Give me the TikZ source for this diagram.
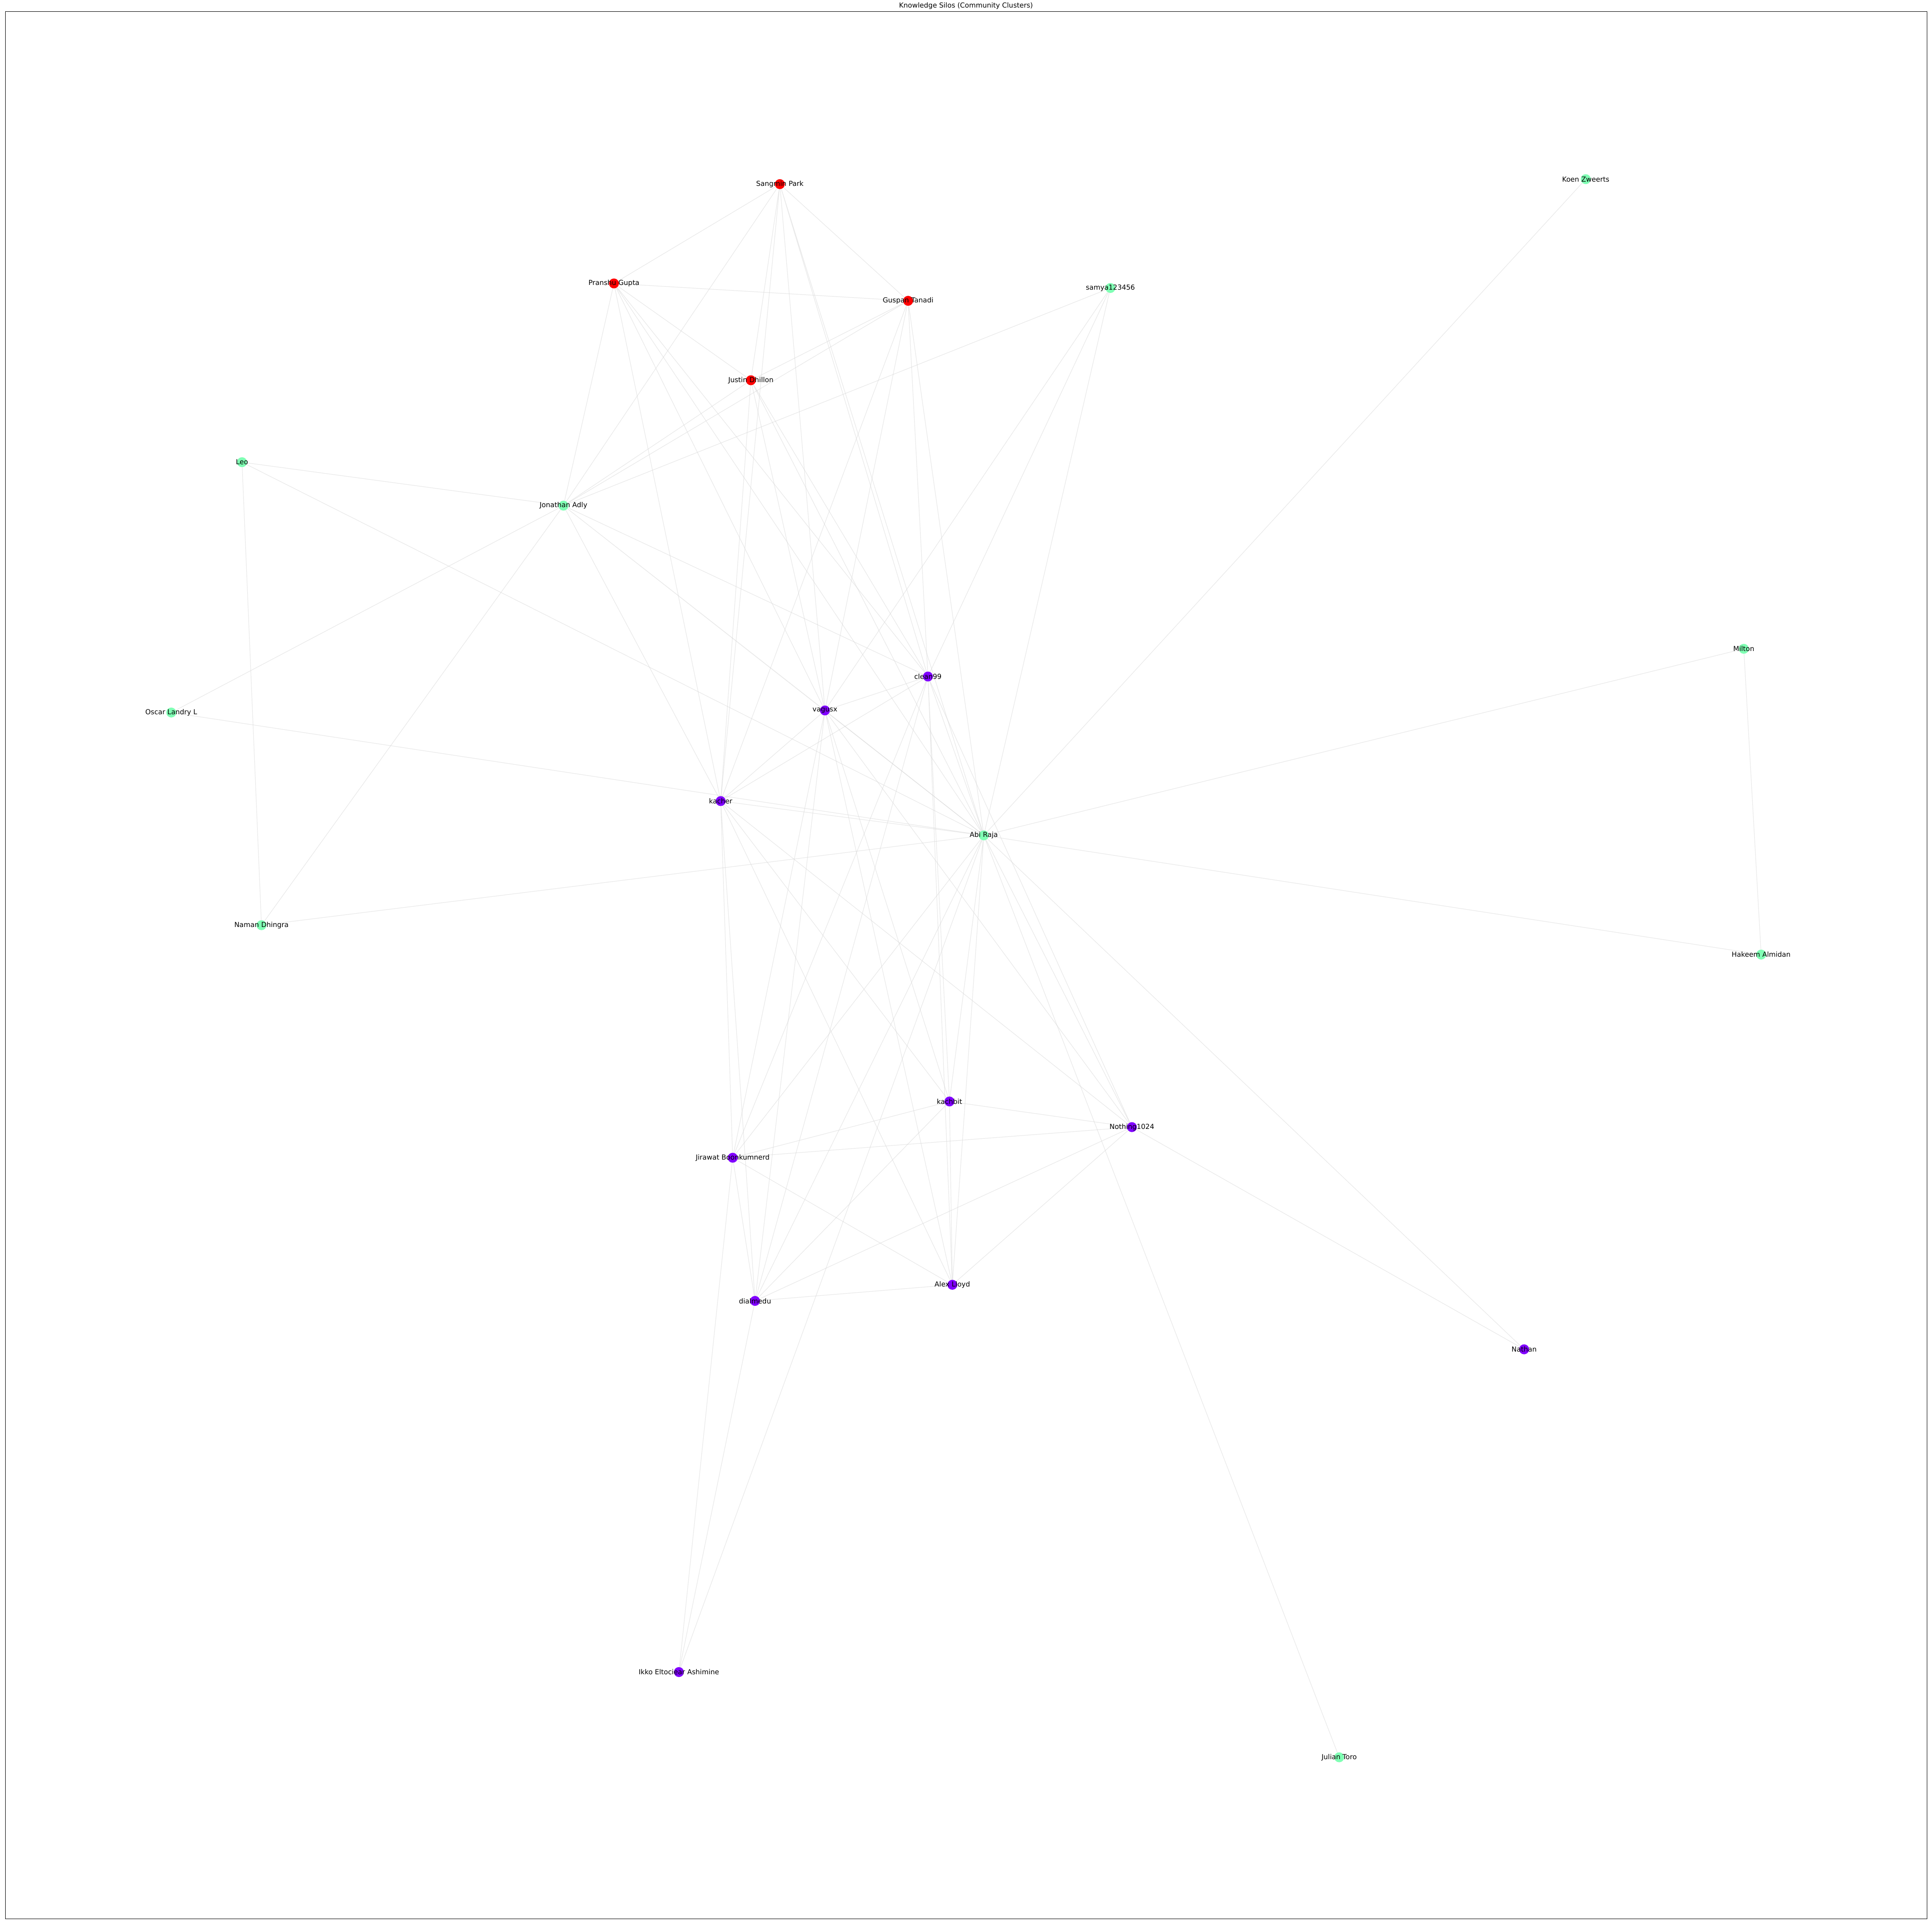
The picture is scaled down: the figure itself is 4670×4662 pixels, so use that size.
\documentclass[tikz,border=0pt]{standalone}
\usepackage{fontspec}
\setmainfont{DejaVu Sans}
\usetikzlibrary{backgrounds}

\definecolor{clpurple}{RGB}{128,0,255}
\definecolor{clgreen}{RGB}{128,255,180}
\definecolor{clred}{RGB}{255,0,0}

\begin{document}
\begin{tikzpicture}[
    x=0.72pt, y=-0.72pt,
    person/.style={circle, inner sep=0pt, minimum size=17.3pt},
    purp/.style={person, fill=clpurple},
    mint/.style={person, fill=clgreen},
    hot/.style={person, fill=clred},
    lbl/.style={font=\fontsize{12}{14}\selectfont, text=black},
    link/.style={draw=black!17, line width=1pt, draw opacity=0.5}
]
\useasboundingbox (0,0) rectangle (4670,4662);

% Red cluster
\node[hot, label={[lbl]center:Sangmin Park}] (sangmin) at (1885,445) {};
\node[hot, label={[lbl]center:Pranshu Gupta}] (pranshu) at (1484,685) {};
\node[hot, label={[lbl]center:Guspan Tanadi}] (guspan) at (2195,727) {};
\node[hot, label={[lbl]center:Justin Dhillon}] (justin) at (1815,919) {};

% Green cluster
\node[mint, label={[lbl]center:samya123456}] (samya) at (2684,696) {};
\node[mint, label={[lbl]center:Koen Zweerts}] (koen) at (3833,433) {};
\node[mint, label={[lbl]center:Leo}] (leo) at (585,1117) {};
\node[mint, label={[lbl]center:Jonathan Adly}] (jonathan) at (1362,1222) {};
\node[mint, label={[lbl]center:Milton}] (milton) at (4215,1568) {};
\node[mint, label={[lbl]center:Oscar Landry L}] (oscar) at (414,1722) {};
\node[mint, label={[lbl]center:Abi Raja}] (abi) at (2378,2019) {};
\node[mint, label={[lbl]center:Naman Dhingra}] (naman) at (632,2236) {};
\node[mint, label={[lbl]center:Hakeem Almidan}] (hakeem) at (4257,2307) {};
\node[mint, label={[lbl]center:Julian Toro}] (julian) at (3237,4247) {};

% Purple cluster
\node[purp, label={[lbl]center:clean99}] (clean) at (2243,1635) {};
\node[purp, label={[lbl]center:vagusx}] (vagusx) at (1994,1717) {};
\node[purp, label={[lbl]center:kacher}] (kacher) at (1742,1936) {};
\node[purp, label={[lbl]center:kachbit}] (kachbit) at (2295,2662) {};
\node[purp, label={[lbl]center:Nothing1024}] (nothing) at (2736,2724) {};
\node[purp, label={[lbl]center:Jirawat Boonkumnerd}] (jirawat) at (1771,2798) {};
\node[purp, label={[lbl]center:dialmedu}] (dia) at (1825,3144) {};
\node[purp, label={[lbl]center:Alex Lloyd}] (alex) at (2302,3105) {};
\node[purp, label={[lbl]center:Nathan}] (nathan) at (3684,3261) {};
\node[purp, label={[lbl]center:Ikko Eltociear Ashimine}] (ikko) at (1641,4041) {};

% Links
\begin{scope}[on background layer]
\draw[link] (sangmin) -- (pranshu) (sangmin) -- (guspan) (sangmin) -- (jonathan) (sangmin) -- (justin)
    (sangmin) -- (kacher) (sangmin) -- (vagusx) (sangmin) -- (clean) (sangmin) -- (abi);
\draw[link] (pranshu) -- (guspan) (pranshu) -- (justin) (pranshu) -- (jonathan) (pranshu) -- (kacher)
    (pranshu) -- (vagusx) (pranshu) -- (clean) (pranshu) -- (abi);
\draw[link] (guspan) -- (justin) (guspan) -- (jonathan) (guspan) -- (kacher) (guspan) -- (vagusx)
    (guspan) -- (clean) (guspan) -- (abi);
\draw[link] (justin) -- (jonathan) (justin) -- (kacher) (justin) -- (vagusx) (justin) -- (clean)
    (justin) -- (abi);
\draw[link] (samya) -- (jonathan) (samya) -- (vagusx) (samya) -- (clean) (samya) -- (abi);
\draw[link] (koen) -- (abi);
\draw[link] (leo) -- (jonathan) (leo) -- (naman) (leo) -- (abi);
\draw[link] (jonathan) -- (oscar) (jonathan) -- (naman) (jonathan) -- (kacher) (jonathan) -- (vagusx)
    (jonathan) -- (abi) (jonathan) -- (clean);
\draw[link] (milton) -- (abi) (milton) -- (hakeem);
\draw[link] (oscar) -- (abi);
\draw[link] (clean) -- (vagusx) (clean) -- (kacher) (clean) -- (jirawat) (clean) -- (dia)
    (clean) -- (kachbit) (clean) -- (alex) (clean) -- (abi) (clean) -- (nothing);
\draw[link] (vagusx) -- (kacher) (vagusx) -- (jirawat) (vagusx) -- (dia) (vagusx) -- (kachbit)
    (vagusx) -- (alex) (vagusx) -- (abi) (vagusx) -- (nothing);
\draw[link] (kacher) -- (abi) (kacher) -- (jirawat) (kacher) -- (dia) (kacher) -- (alex)
    (kacher) -- (kachbit) (kacher) -- (nothing);
\draw[link] (abi) -- (naman) (abi) -- (hakeem) (abi) -- (jirawat) (abi) -- (dia) (abi) -- (kachbit)
    (abi) -- (alex) (abi) -- (nothing) (abi) -- (nathan) (abi) -- (julian) (abi) -- (ikko);
\draw[link] (kachbit) -- (nothing) (kachbit) -- (jirawat) (kachbit) -- (dia) (kachbit) -- (alex);
\draw[link] (nothing) -- (jirawat) (nothing) -- (dia) (nothing) -- (alex) (nothing) -- (nathan);
\draw[link] (jirawat) -- (alex) (jirawat) -- (dia) (jirawat) -- (ikko);
\draw[link] (dia) -- (alex) (dia) -- (ikko);
\end{scope}

% Frame and title
\draw[line width=0.8pt] (13,28) rectangle (4658,4637);
\node[lbl] (title) at (2335,14) {Knowledge Silos (Community Clusters)};
\end{tikzpicture}
\end{document}
